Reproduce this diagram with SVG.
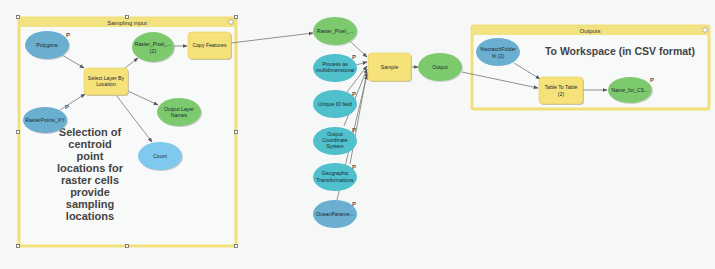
<svg xmlns="http://www.w3.org/2000/svg" width="715" height="269" viewBox="0 0 715 269">
<style>
.bg{fill:#f6f8f8}
.frame{fill:#f8f9f9;stroke:#f1e07a;stroke-width:3}
.bar{fill:#f3e282}
.ttl{font-family:"Liberation Sans",Arial,sans-serif;font-size:6px;fill:#333;text-anchor:middle}
.h{fill:#fff;stroke:#666;stroke-width:0.8}
.tool{fill:#f5e27a;stroke:#e8cf5a;stroke-width:0.6}
.shadow{fill:#9a9a9a;opacity:0.6}
.green{fill:#7dca6e}
.blue{fill:#6aaed0}
.teal{fill:#4fc0cc}
.light{fill:#80c9ee}
.t{font-family:"Liberation Sans",Arial,sans-serif;font-size:5.2px;fill:#1a2a30;text-anchor:middle}
.p{font-family:"Liberation Sans",Arial,sans-serif;font-size:6px;fill:#555;font-weight:bold}
.big{font-family:"Liberation Sans",Arial,sans-serif;font-size:11px;font-weight:bold;fill:#444;text-anchor:middle}
.e{fill:none;stroke:#777;stroke-width:0.8;marker-end:url(#ah)}
</style>
<defs>
<marker id="ah" viewBox="0 0 8 8" refX="7" refY="4" markerWidth="5" markerHeight="5" orient="auto" markerUnits="userSpaceOnUse"><path d="M0,1 L8,4 L0,7 z" fill="#555"/></marker>
</defs>
<rect class="bg" x="0" y="0" width="715" height="269"/>

<g id="group-sampling-input">
<rect class="frame" x="19" y="18" width="217" height="228"/>
<rect class="bar" x="19" y="18" width="217" height="9"/>
<text class="ttl" x="127" y="25">Sampling input</text>
<circle cx="231" cy="22" r="2.3" fill="#fff" stroke="#888" stroke-width="0.6"/>
<rect class="h" x="16.5" y="15.5" width="3" height="3"/>
<rect class="h" x="125.5" y="15.5" width="3" height="3"/>
<rect class="h" x="234.5" y="15.5" width="3" height="3"/>
<rect class="h" x="16.5" y="130.5" width="3" height="3"/>
<rect class="h" x="234.5" y="130.5" width="3" height="3"/>
<rect class="h" x="16.5" y="244.5" width="3" height="3"/>
<rect class="h" x="125.5" y="244.5" width="3" height="3"/>
<rect class="h" x="234.5" y="244.5" width="3" height="3"/>
<text class="big"><tspan x="90" y="136">Selection of</tspan><tspan x="90" y="148">centroid</tspan><tspan x="90" y="160">point</tspan><tspan x="90" y="172">locations for</tspan><tspan x="90" y="184">raster cells</tspan><tspan x="90" y="196">provide</tspan><tspan x="90" y="208">sampling</tspan><tspan x="90" y="220">locations</tspan></text>
</g>

<g id="group-outputs">
<rect class="frame" x="472" y="26" width="237" height="83" rx="1.5"/>
<rect class="bar" x="472" y="26" width="237" height="9"/>
<text class="ttl" x="590" y="33">Outputs</text>
<circle cx="705" cy="30" r="2.3" fill="#fff" stroke="#888" stroke-width="0.6"/>
<text class="big" x="620" y="55" style="font-size:10.5px">To Workspace (in CSV format)</text>
</g>

<g id="connectors">
<line class="e" x1="62" y1="55" x2="84" y2="68"/>
<line class="e" x1="60" y1="110" x2="85" y2="94"/>
<line class="e" x1="125" y1="68" x2="138" y2="58"/>
<line class="e" x1="174" y1="46" x2="187" y2="46"/>
<line class="e" x1="128" y1="91" x2="158" y2="105"/>
<line class="e" x1="116" y1="95" x2="152" y2="142"/>
<line class="e" x1="231" y1="43" x2="313" y2="33"/>
<line class="e" x1="351" y1="42" x2="367" y2="57"/>
<line class="e" x1="356" y1="65" x2="367" y2="62"/>
<line class="e" x1="347" y1="92" x2="367" y2="66"/>
<line class="e" x1="344" y1="126" x2="367" y2="69"/>
<line class="e" x1="350" y1="164" x2="367" y2="72"/>
<line class="e" x1="337" y1="200" x2="367" y2="75"/>
<line class="e" x1="411" y1="67" x2="418" y2="67"/>
<line class="e" x1="462" y1="72" x2="538" y2="88"/>
<line class="e" x1="514" y1="63" x2="540" y2="79"/>
<line class="e" x1="583" y1="90" x2="607" y2="90"/>
</g>

<g id="node-polygons">
<ellipse cx="48" cy="46" rx="22" ry="14" fill="#999" opacity="0.5"/>
<ellipse class="blue" cx="47" cy="45" rx="22" ry="14"/>
<text class="t" x="47" y="47">Polygons</text>
<text class="p" x="66" y="37">P</text>
</g>

<g id="node-rasterpoints-xy">
<ellipse cx="46" cy="121" rx="22" ry="13" fill="#999" opacity="0.5"/>
<ellipse class="blue" cx="45" cy="120" rx="22" ry="13"/>
<text class="t" x="45" y="122">RasterPoints_XY</text>
<text class="p" x="65" y="109">P</text>
</g>

<g id="node-select-layer-by-location">
<rect class="shadow" x="85" y="69" width="44" height="27" rx="4"/>
<rect class="tool" x="84" y="68" width="44" height="27" rx="4"/>
<text class="t" x="106" y="80">Select Layer By</text>
<text class="t" x="106" y="86">Location</text>
</g>

<g id="node-raster-pixel-2">
<ellipse cx="154" cy="48" rx="21" ry="15" fill="#999" opacity="0.5"/>
<ellipse class="green" cx="153" cy="47" rx="21" ry="15"/>
<text class="t" x="153" y="46">Raster_Pixel_...</text>
<text class="t" x="153" y="53">(2)</text>
</g>

<g id="node-copy-features">
<rect class="shadow" x="189" y="33" width="43" height="27" rx="4"/>
<rect class="tool" x="188" y="32" width="43" height="27" rx="4"/>
<text class="t" x="209.5" y="47">Copy Features</text>
</g>

<g id="node-output-layer-names">
<ellipse cx="180" cy="113" rx="22" ry="14" fill="#999" opacity="0.5"/>
<ellipse class="green" cx="179" cy="112" rx="22" ry="14"/>
<text class="t" x="179" y="111">Output Layer</text>
<text class="t" x="179" y="117">Names</text>
</g>

<g id="node-count">
<ellipse cx="161" cy="157" rx="22" ry="14" fill="#999" opacity="0.5"/>
<ellipse class="light" cx="160" cy="156" rx="22" ry="14"/>
<text class="t" x="160" y="158">Count</text>
</g>

<g id="node-raster-pixel">
<ellipse cx="336" cy="32" rx="22" ry="14" fill="#999" opacity="0.4"/>
<ellipse class="green" cx="335" cy="31" rx="22" ry="14"/>
<text class="t" x="335" y="33">Raster_Pixel_...</text>
</g>

<g id="node-process-multidimensional">
<ellipse class="teal" cx="335" cy="68" rx="22" ry="14"/>
<text class="t" x="335" y="66">Process as</text>
<text class="t" x="335" y="72">multidimensional</text>
<text class="p" x="352" y="59">P</text>
</g>

<g id="node-unique-id-field">
<ellipse class="teal" cx="335" cy="104" rx="22" ry="14"/>
<text class="t" x="335" y="106">Unique ID field</text>
<text class="p" x="352" y="96">P</text>
</g>

<g id="node-output-coordinate-system">
<ellipse class="teal" cx="335" cy="141" rx="22" ry="14"/>
<text class="t" x="335" y="136">Output</text>
<text class="t" x="335" y="142">Coordinate</text>
<text class="t" x="335" y="148">System</text>
<text class="p" x="352" y="132">P</text>
</g>

<g id="node-geographic-transformations">
<ellipse class="teal" cx="335" cy="177" rx="22" ry="14"/>
<text class="t" x="335" y="175">Geographic</text>
<text class="t" x="335" y="182">Transformations</text>
<text class="p" x="352" y="169">P</text>
</g>

<g id="node-oceanparame">
<ellipse class="blue" cx="335" cy="214" rx="22" ry="14"/>
<text class="t" x="335" y="216">OceanParame...</text>
<text class="p" x="352" y="206">P</text>
</g>

<g id="node-sample">
<rect class="shadow" x="369" y="54" width="43" height="28" rx="4"/>
<rect class="tool" x="368" y="53" width="43" height="28" rx="4"/>
<text class="t" x="389.5" y="69">Sample</text>
</g>

<g id="node-output">
<ellipse cx="441" cy="68" rx="22" ry="14" fill="#999" opacity="0.4"/>
<ellipse class="green" cx="440" cy="67" rx="22" ry="14"/>
<text class="t" x="440" y="69">Output</text>
</g>

<g id="node-scratchfolder-2">
<ellipse class="blue" cx="498" cy="52" rx="22" ry="14"/>
<text class="t" x="498" y="51">%scratchFolder</text>
<text class="t" x="498" y="58">% (2)</text>
</g>

<g id="node-table-to-table-2">
<rect class="shadow" x="540" y="78" width="44" height="27" rx="4"/>
<rect class="tool" x="539" y="77" width="44" height="27" rx="4"/>
<text class="t" x="561" y="89">Table To Table</text>
<text class="t" x="561" y="96">(2)</text>
</g>

<g id="node-name-for-csv">
<ellipse cx="631" cy="91" rx="22" ry="13" fill="#999" opacity="0.4"/>
<ellipse class="green" cx="630" cy="90" rx="22" ry="13"/>
<text class="t" x="630" y="92">Name_for_CS...</text>
<text class="p" x="650" y="82">P</text>
</g>
</svg>
